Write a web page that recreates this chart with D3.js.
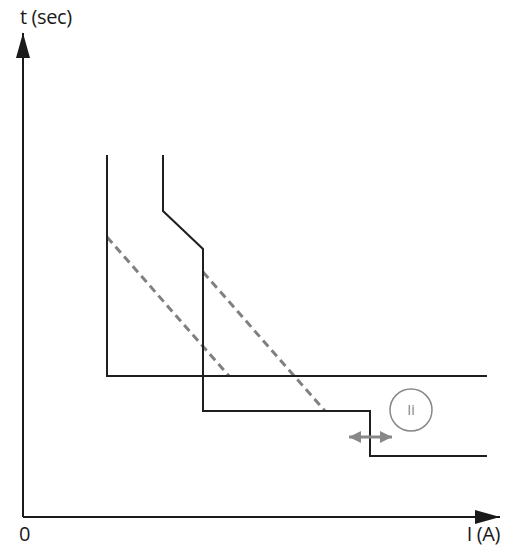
<!DOCTYPE html>
<html>
<head>
<meta charset="utf-8">
<script src="https://cdn.jsdelivr.net/npm/d3@7"></script>
<style>
  body { margin: 0; background: #fff; }
  svg { display: block; }
  text { font-family: "Open Sans", sans-serif; }
</style>
</head>
<body>
<div id="chart-container"></div>
<script>
// curve data in chart units (current along x, time along y)
var curveA = [[84, 362], [84, 141], [464, 141]];
var curveB = [[140, 362], [140, 306], [180, 268], [180, 106], [347, 106], [347, 61], [464, 61]];
var dashA = [[84, 280], [206, 141]];
var dashB = [[180, 245], [302, 106]];
var adjustArrow = [[326, 80], [369, 80]];
var iiMarker = { x: 388, y: 107, label: "Ii" };
var axisLabels = { x: "I (A)", y: "t (sec)", origin: "0" };

function create_chart() {
    var width = 508, height = 546;
    var svg = d3.select("#chart-container")
        .append("svg")
        .attr("width", width)
        .attr("height", height);

    var xScale = d3.scaleLinear().domain([0, 477]).range([23, 500]);
    var yScale = d3.scaleLinear().domain([0, 484]).range([517, 33]);

    // arrow heads
    var defs = svg.append("defs");
    defs.append("marker")
        .attr("id", "axis-head")
        .attr("viewBox", "0 0 25 14")
        .attr("refX", 25).attr("refY", 7)
        .attr("markerWidth", 25).attr("markerHeight", 14)
        .attr("markerUnits", "userSpaceOnUse")
        .attr("orient", "auto")
        .append("path")
        .attr("d", "M0,0 L25,7 L0,14 Z")
        .attr("fill", "#1a1a1a");
    defs.append("marker")
        .attr("id", "grey-head")
        .attr("viewBox", "0 0 12 12")
        .attr("refX", 12).attr("refY", 6)
        .attr("markerWidth", 12).attr("markerHeight", 12)
        .attr("markerUnits", "userSpaceOnUse")
        .attr("orient", "auto-start-reverse")
        .append("path")
        .attr("d", "M0,0 L12,6 L0,12 Z")
        .attr("fill", "#888");

    var line = d3.line()
        .x(d => xScale(d[0]))
        .y(d => yScale(d[1]));

    // axes
    svg.append("path")
        .attr("d", line([[0, 0], [0, 484]]))
        .attr("stroke", "#1a1a1a").attr("stroke-width", 2).attr("fill", "none")
        .attr("marker-end", "url(#axis-head)");
    svg.append("path")
        .attr("d", line([[0, 0], [477, 0]]))
        .attr("stroke", "#1a1a1a").attr("stroke-width", 2).attr("fill", "none")
        .attr("marker-end", "url(#axis-head)");

    // dashed curves
    [dashA, dashB].forEach(function(d) {
        svg.append("path")
            .attr("d", line(d))
            .attr("stroke", "#808080").attr("stroke-width", 3)
            .attr("stroke-dasharray", "8,5")
            .attr("fill", "none");
    });

    // solid curves
    [curveA, curveB].forEach(function(d) {
        svg.append("path")
            .attr("d", line(d))
            .attr("stroke", "#1f1f1f").attr("stroke-width", 2)
            .attr("fill", "none");
    });

    // adjustment arrow
    svg.append("path")
        .attr("d", line(adjustArrow))
        .attr("stroke", "#888").attr("stroke-width", 3).attr("fill", "none")
        .attr("marker-start", "url(#grey-head)")
        .attr("marker-end", "url(#grey-head)");

    // Ii marker
    svg.append("circle")
        .attr("cx", xScale(iiMarker.x)).attr("cy", yScale(iiMarker.y))
        .attr("r", 21)
        .attr("fill", "#fff").attr("stroke", "#888").attr("stroke-width", 1.5);
    svg.append("text")
        .attr("x", xScale(iiMarker.x)).attr("y", yScale(iiMarker.y) + 5)
        .attr("text-anchor", "middle")
        .attr("font-size", 14).attr("fill", "#808080")
        .text(iiMarker.label);

    // labels
    svg.append("text")
        .attr("x", 20).attr("y", 24)
        .attr("font-size", 20).attr("letter-spacing", -0.4).attr("fill", "#1a1a1a")
        .text(axisLabels.y);
    svg.append("text")
        .attr("x", 19).attr("y", 541)
        .attr("font-size", 20).attr("fill", "#1a1a1a")
        .text(axisLabels.origin);
    svg.append("text")
        .attr("x", 500).attr("y", 541)
        .attr("text-anchor", "end")
        .attr("font-size", 20).attr("letter-spacing", -0.4).attr("fill", "#1a1a1a")
        .text(axisLabels.x);
}

create_chart();
</script>
</body>
</html>
